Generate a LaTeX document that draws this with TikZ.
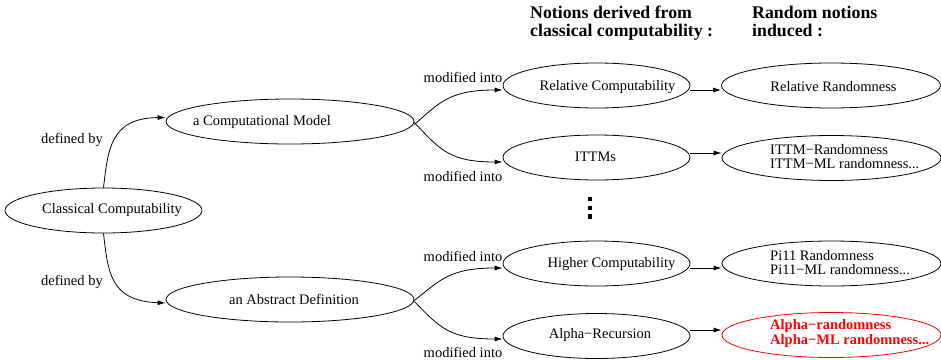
\documentclass[tikz,border=0pt]{standalone}
\usepackage{fontspec}
\setmainfont{Liberation Serif}
\usetikzlibrary{shapes.geometric,arrows.meta}
\newcommand{\mns}{\symbol{"2212}}
\begin{document}
\begin{tikzpicture}[x=1pt,y=-1pt,
  every node/.style={font=\fontsize{14.5}{14.5}\selectfont},
  ov/.style={draw,ellipse,inner sep=0pt,line width=0.8pt},
  ovA/.style={ov,minimum width=197pt,minimum height=45pt},
  ovB/.style={ov,minimum width=248pt,minimum height=45pt},
  ovC/.style={ov,minimum width=187pt,minimum height=45pt},
  ovD/.style={ov,minimum width=219pt,minimum height=45pt},
  txt/.style={inner sep=0pt},
  txtL/.style={inner sep=0pt,anchor=west,align=left},
  arr/.style={-{Latex[length=8pt,width=5pt]},line width=0.8pt},
  lbl/.style={inner sep=0pt},
  hdr/.style={font=\fontsize{17.8}{18}\selectfont\bfseries,align=left,anchor=north west,inner sep=0pt},
  dot/.style={fill=black,minimum size=4.5pt,inner sep=0pt}]
\useasboundingbox (0,0) rectangle (941,359);

\node[hdr] (h1) at (530,6) {Notions derived from\\classical computability :};
\node[hdr] (h2) at (752,6) {Random notions\\induced :};

% ellipses
\node[ovA] (cc) at (103.5,210.5) {};
\node[ovB] (cm) at (290,121.5) {};
\node[ovB] (ad) at (290,299.5) {};
\node[ovC] (rc) at (596.5,85.5) {};
\node[ovC] (it) at (596.5,157.5) {};
\node[ovC] (hc) at (596.5,263.5) {};
\node[ovC] (ar) at (596.5,336) {};
\node[ovD] (rr) at (831,85.5) {};
\node[ovD] (ir) at (831.5,158) {};
\node[ovD] (pr) at (831.5,263.5) {};
\node[ovD,draw=red] (alr) at (831.5,335) {};

% texts
\node[txt] (tcc) at (112,210.5) {Classical Computability};
\node[txt] (tcm) at (262,122.5) {a Computational Model};
\node[txt] (tad) at (294,299) {an Abstract Definition};
\node[txt] (trc) at (607.5,87) {Relative Computability};
\node[txt] (tit) at (595.5,157) {ITTMs};
\node[txt] (thc) at (611.5,264) {Higher Computability};
\node[txt] (tar) at (600,335) {Alpha\mns Recursion};
\node[txt] (trr) at (833.5,87) {Relative Randomness};
\node[txtL] (tir) at (770,156.5) {ITTM\mns Randomness\\ITTM\mns ML randomness...};
\node[txtL] (tpr) at (770,262.5) {Pi11 Randomness\\Pi11\mns ML randomness...};
\node[txtL,text=red,font=\fontsize{14.5}{14.5}\selectfont\bfseries] (talr) at (770,333.5) {Alpha\mns randomness\\Alpha\mns ML randomness...};

\node[dot] (d1) at (590,199) {};
\node[dot] (d2) at (590,208) {};
\node[dot] (d3) at (590,216.5) {};

\draw[arr] (cc.north) .. controls (108,150) and (110,118) .. ([yshift=4pt]cm.west);
\draw[arr] (cc.south) .. controls (108,272) and (110,301) .. ([yshift=-3.5pt]ad.west);
\node[lbl] (l1) at (72,140) {defined by};
\node[lbl] (l2) at (72,282) {defined by};

\draw[arr] ([yshift=-3pt]cm.east) .. controls (440,102) and (450,90) .. ([yshift=-4.5pt]rc.west);
\draw[arr] ([yshift=-1pt]cm.east) .. controls (440,150) and (450,162) .. ([yshift=-4.5pt]it.west);
\draw[arr] ([yshift=-1pt]ad.east) .. controls (440,280) and (450,268) .. ([yshift=-4.5pt]hc.west);
\draw[arr] ([yshift=-2pt]ad.east) .. controls (440,328) and (450,339) .. ([yshift=-3pt]ar.west);

\node[lbl] (m1) at (463,77) {modified into};
\node[lbl] (m2) at (463,176) {modified into};
\node[lbl] (m3) at (463,256) {modified into};
\node[lbl] (m4) at (463,352) {modified into};

\draw[arr] ([yshift=-4.5pt]rc.east) -- ([yshift=-4.5pt]rr.west);
\draw[arr] ([yshift=4.5pt]it.east) -- ([yshift=5pt]ir.west);
\draw[arr] ([yshift=-4.5pt]hc.east) -- ([yshift=-4.5pt]pr.west);
\draw[arr] ([yshift=6pt]ar.east) -- ([yshift=5pt]alr.west);
\end{tikzpicture}
\end{document}
